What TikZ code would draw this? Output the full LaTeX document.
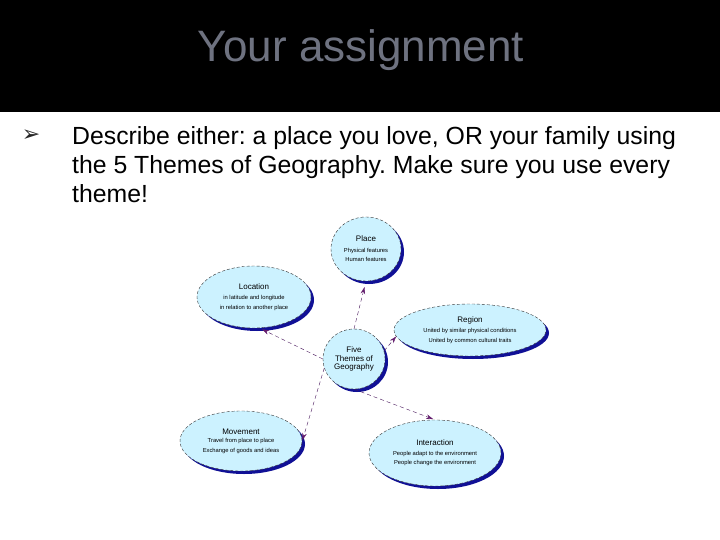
\documentclass[tikz,border=0pt]{standalone}
\usepackage{fontspec}
\setmainfont{Liberation Sans}
\newfontfamily\symbolfont{DejaVu Sans}
\usetikzlibrary{shapes.geometric,shadows,arrows.meta}
\definecolor{titlegray}{RGB}{110,114,128}
\definecolor{themefill}{RGB}{204,242,255}
\definecolor{themeshadow}{RGB}{16,16,150}
\definecolor{linkpurple}{RGB}{70,20,90}
\definecolor{tippurple}{RGB}{100,30,110}
\newcommand{\headsize}{\fontsize{8}{10}\selectfont}
\frenchspacing

\begin{document}
\begin{tikzpicture}[
  x=1pt,y=-1pt,
  theme/.style={ellipse,draw=black!80,thin,dash pattern=on 3pt off 2pt,fill=themefill,inner sep=0pt,
    align=center,font=\fontsize{5.8}{9.5}\selectfont,
    drop shadow={shadow xshift=3pt,shadow yshift=-3pt,fill=themeshadow,opacity=1}},
  link/.style={-{Stealth[length=7pt,width=4.5pt,color=tippurple]},draw=linkpurple,thin,dash pattern=on 4pt off 3pt},
  every node/.style={inner sep=0pt}]

  % Slide background and heading
  \useasboundingbox (0,0) rectangle (720,540);
  \fill[white] (0,0) rectangle (720,540);
  \fill[black] (0,0) rectangle (720,112);
  \node[anchor=base,text=titlegray,font=\fontsize{44}{44}\selectfont] (title) at (361,62) {Your assignment};

  % Bullet text
  \node[font=\symbolfont\fontsize{22}{22}\selectfont,text=black!85] (bullet) at (31,136) {➢};
  \node[anchor=base west,align=left,font=\fontsize{24.8}{29}\selectfont] (task) at (72,203)
    {Describe either: a place you love, OR your family using\\the 5 Themes of Geography. Make sure you use every\\theme!};

  % Position the theme ellipses
  \node[theme,minimum width=62pt,minimum height=60pt] (five) at (354,359) {{\headsize Five}\\[-1pt]{\headsize Themes of}\\[-1pt]{\headsize Geography}};
  \node[theme,minimum width=70pt,minimum height=64pt] (place) at (366,249) {{\headsize Place}\\[1pt]Physical features\\Human features};
  \node[theme,minimum width=114pt,minimum height=62pt] (location) at (254,297) {{\headsize Location}\\[1pt]in latitude and longitude\\in relation to another place};
  \node[theme,minimum width=152pt,minimum height=52pt] (region) at (470,330) {{\headsize Region}\\[1pt]United by similar physical conditions\\United by common cultural traits};
  \node[theme,minimum width=122pt,minimum height=60pt] (movement) at (241,441) {{\headsize Movement}\\[-1pt]Travel from place to place\\Exchange of goods and ideas};
  \node[theme,minimum width=132pt,minimum height=66pt] (interaction) at (435,453) {{\headsize Interaction}\\[0pt]People adapt to the environment\\People change the environment};

  % Draw the dashed arrows out of the centre
  \draw[link,shorten >=6pt] (five.north) -- (place.south);
  \draw[link,shorten >=3pt] (five.west) -- (location.-80);
  \draw[link] (five.15) -- (region.185);
  \draw[link,shorten >=1pt] (five.197) -- (movement.east);
  \draw[link,shorten >=2pt] (five.south) -- (interaction.north);
\end{tikzpicture}
\end{document}
